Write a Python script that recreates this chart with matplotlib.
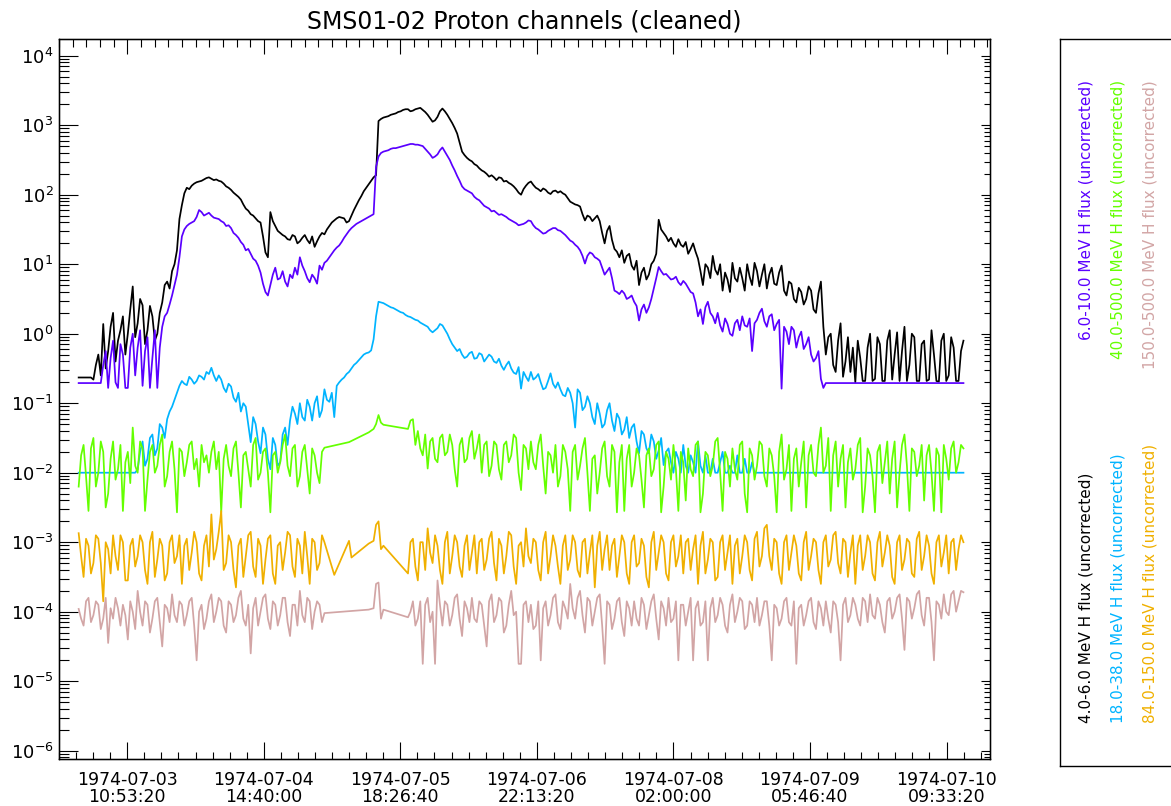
import numpy as np
import matplotlib
matplotlib.use('Agg')
import matplotlib.pyplot as plt
from matplotlib.ticker import FixedLocator, LogLocator, NullFormatter, FixedFormatter

nan = np.nan

# sample times: hours after 1974-07-02 21:00:00, every half hour
hours = np.arange(4, 184.5, 0.5)

# log10 of the fluxes (nan = no sample, the line just joins)
black_lg = [
    -0.63, -0.63, -0.63, -0.63, -0.63, -0.63, -0.66, -0.45, -0.30, -0.60, 0.14, -0.50, -0.25, 0.10, 0.30, -0.40, -0.10, 0.05, 0.25, -0.30,
    0.00, 0.35, 0.68, -0.05, 0.15, 0.50, 0.41, -0.15, 0.05, 0.40, 0.25, -0.10, 0.00, 0.30, 0.45, 0.70, 0.75, 0.65, 0.90, 1.00,
    1.20, 1.65, 1.85, 2.02, 2.10, 2.08, 2.13, 2.16, 2.18, 2.19, 2.20, 2.22, 2.24, 2.25, 2.23, 2.21, 2.22, 2.20, 2.19, 2.16,
    2.12, 2.10, 2.07, 2.03, 2.00, 1.97, 1.93, 1.86, 1.80, 1.77, 1.72, 1.70, 1.66, 1.62, 1.60, 1.40, 1.17, 1.10, 1.75, 1.62,
    1.55, 1.48, 1.45, 1.42, 1.40, 1.36, 1.35, 1.42, 1.40, 1.30, 1.33, 1.38, 1.42, 1.35, 1.30, 1.40, 1.25, 1.33, 1.40, 1.45,
    1.43, 1.50, 1.55, 1.60, 1.63, 1.66, 1.68, 1.67, 1.66, 1.60, 1.62, 1.70, 1.78, 1.85, 1.92, 1.98, 2.05, 2.10, 2.15, 2.20,
    2.25, 2.28, 3.06, 3.09, 3.11, 3.12, 3.13, 3.15, 3.16, 3.17, 3.19, 3.20, 3.22, 3.23, 3.23, 3.20, 3.21, 3.23, 3.24, 3.25,
    3.22, 3.19, 3.15, 3.10, 3.05, 3.07, 3.12, 3.20, 3.24, 3.20, 3.15, 3.09, 3.03, 2.96, 2.88, 2.75, 2.62, 2.57, 2.53, 2.50,
    2.48, 2.44, 2.42, 2.38, 2.35, 2.33, 2.30, 2.26, 2.28, 2.25, 2.21, 2.25, 2.24, 2.19, 2.20, 2.17, 2.15, 2.12, 2.08, 2.03,
    2.00, 2.08, 2.13, 2.17, 2.19, 2.14, 2.10, 2.08, 2.05, 2.09, 2.07, 2.03, 2.01, 2.05, 2.06, 2.03, 2.05, 2.02, 2.00, 1.95,
    1.90, 1.88, 1.86, 1.85, 1.83, 1.72, 1.63, 1.70, 1.68, 1.62, 1.66, 1.70, 1.62, 1.45, 1.30, 1.48, 1.55, 1.35, 1.22, 1.18,
    1.10, 1.20, 1.02, 1.12, 1.15, 0.98, 0.92, 1.05, 0.70, 0.88, 0.95, 0.78, 0.85, 1.00, 1.05, 1.15, 1.64, 1.50, 1.45, 1.40,
    1.33, 1.38, 1.30, 1.25, 1.36, 1.28, 1.25, 1.32, 1.15, 1.22, 1.30, 1.18, 1.08, 0.90, 0.70, 1.00, 0.95, 0.80, 1.12, 0.92,
    0.85, 1.00, 0.62, 0.88, 0.78, 0.60, 1.02, 0.80, 0.75, 0.95, 0.80, 0.62, 1.00, 0.82, 0.70, 1.02, 0.90, 0.68, 0.85, 1.00,
    0.65, 0.85, 0.95, 0.72, 0.70, 0.88, 0.98, 0.62, 0.55, 0.75, 0.72, 0.50, 0.45, 0.66, 0.60, 0.42, 0.50, 0.68, 0.62, 0.35,
    0.30, 0.58, 0.75, 0.10, -0.30, -0.05, 0.00, -0.45, -0.55, -0.10, 0.15, -0.62, -0.40, -0.05, -0.55, -0.20, -0.70, -0.10, -0.35, -0.68,
    -0.68, -0.20, 0.00, -0.68, -0.65, -0.05, -0.15, -0.68, -0.68, -0.10, 0.05, -0.66, -0.30, 0.02, -0.68, -0.25, 0.10, -0.68, -0.45, 0.00,
    -0.05, -0.68, -0.68, -0.15, -0.10, -0.68, -0.66, 0.05, -0.30, -0.68, -0.69, -0.10, 0.00, -0.68, -0.60, -0.05, -0.20, -0.68, -0.68, -0.25,
    -0.10]

purple_lg = [
    -0.71, -0.71, -0.71, -0.71, -0.71, -0.71, -0.71, -0.71, -0.71, -0.71, -0.45, -0.25, -0.78, -0.35, -0.10, -0.70, -0.78, -0.15, -0.30, -0.78,
    -0.78, -0.20, 0.00, -0.60, -0.20, 0.05, -0.75, -0.25, -0.05, -0.78, -0.35, 0.05, -0.78, -0.20, 0.10, 0.25, 0.30, 0.42, 0.55, 0.70,
    0.85, 1.10, 1.40, 1.50, 1.55, 1.58, 1.60, 1.62, 1.68, 1.78, 1.75, 1.70, 1.72, 1.74, 1.70, 1.67, 1.66, 1.65, 1.62, 1.60,
    1.55, 1.56, 1.52, 1.45, 1.42, 1.38, 1.32, 1.28, 1.20, 1.22, 1.15, 1.08, 1.05, 0.98, 0.88, 0.72, 0.60, 0.55, 0.70, 0.85,
    0.95, 0.78, 0.80, 0.90, 0.75, 0.68, 0.85, 0.80, 0.95, 0.85, 1.10, 0.98, 0.90, 0.80, 0.74, 0.85, 0.80, 0.72, 0.98, 0.92,
    1.02, 1.05, 1.10, 1.15, 1.20, 1.24, 1.27, 1.32, 1.38, 1.43, 1.48, 1.52, 1.55, 1.58, 1.60, 1.62, 1.64, 1.66, 1.68, 1.70,
    1.72, 2.40, 2.55, 2.60, 2.62, 2.63, 2.64, 2.66, 2.67, 2.67, 2.68, 2.69, 2.70, 2.71, 2.72, 2.73, 2.73, 2.72, 2.72, 2.71,
    2.70, 2.66, 2.62, 2.58, 2.53, 2.55, 2.58, 2.64, 2.68, 2.62, 2.56, 2.50, 2.42, 2.35, 2.27, 2.20, 2.12, 2.08, 2.06, 2.04,
    2.02, 1.97, 1.94, 1.92, 1.88, 1.84, 1.82, 1.80, 1.76, 1.77, 1.74, 1.71, 1.72, 1.70, 1.68, 1.65, 1.63, 1.61, 1.59, 1.56,
    1.57, 1.58, 1.60, 1.63, 1.62, 1.56, 1.52, 1.50, 1.47, 1.44, 1.45, 1.48, 1.50, 1.52, 1.52, 1.49, 1.48, 1.45, 1.42, 1.38,
    1.34, 1.32, 1.28, 1.25, 1.20, 1.12, 1.01, 1.12, 1.17, 1.15, 1.10, 1.08, 1.05, 0.95, 0.85, 0.90, 0.95, 0.80, 0.62, 0.60,
    0.57, 0.62, 0.58, 0.50, 0.52, 0.55, 0.46, 0.40, 0.19, 0.35, 0.42, 0.30, 0.38, 0.50, 0.65, 0.80, 0.96, 0.90, 0.85, 0.86,
    0.82, 0.78, 0.79, 0.82, 0.74, 0.70, 0.76, 0.72, 0.66, 0.60, 0.58, 0.45, 0.25, 0.35, 0.14, 0.38, 0.46, 0.30, 0.25, 0.15,
    0.30, 0.12, 0.03, 0.22, 0.14, 0.00, -0.03, 0.15, 0.20, 0.05, 0.25, 0.12, 0.10, 0.22, -0.25, 0.15, 0.20, 0.30, 0.36, 0.18,
    0.10, 0.25, 0.28, 0.05, 0.14, 0.20, -0.79, 0.10, 0.03, -0.15, 0.10, 0.05, -0.20, -0.05, 0.03, -0.22, -0.15, -0.05, -0.30, -0.40,
    -0.35, -0.25, -0.65, -0.78, -0.71, -0.71, -0.71, -0.71, -0.71, -0.71, -0.71, -0.71, -0.71, -0.71, -0.71, -0.71, -0.71, -0.71, -0.71, -0.71,
    -0.71, -0.71, -0.71, -0.71, -0.71, -0.71, -0.71, -0.71, -0.71, -0.71, -0.71, -0.71, -0.71, -0.71, -0.71, -0.71, -0.71, -0.71, -0.71, -0.71,
    -0.71, -0.71, -0.71, -0.71, -0.71, -0.71, -0.71, -0.71, -0.71, -0.71, -0.71, -0.71, -0.71, -0.71, -0.71, -0.71, -0.71, -0.71, -0.71, -0.71,
    -0.71]

blue_lg = [
    -2.00, -2.00, -2.00, -2.00, -2.00, -2.00, -2.00, -2.00, -2.00, -2.00, -2.00, -2.00, -2.00, -2.00, -2.00, -2.00, -2.00, -2.00, -2.00, -2.00,
    -2.00, -2.00, -2.00, -2.00, -1.95, -1.70, -1.55, -1.90, -1.80, -1.50, -1.45, -1.75, -1.65, -1.30, -1.35, -1.50, -1.23, -1.12, -1.05, -0.95,
    -0.85, -0.75, -0.68, -0.72, -0.74, -0.62, -0.66, -0.72, -0.68, -0.60, -0.62, -0.66, -0.55, -0.58, -0.49, -0.60, -0.68, -0.60, -0.66, -0.78,
    -0.84, -0.72, -0.76, -0.92, -0.98, -0.85, -1.12, -1.00, -1.05, -1.30, -1.56, -1.20, -1.30, -1.55, -1.72, -1.35, -1.45, -1.80, -1.95, -1.50,
    -1.60, -1.90, -1.85, -1.45, -1.35, -1.60, -1.25, -1.05, -1.15, -1.30, -1.00, -1.20, -1.25, -0.95, -1.05, -1.25, -1.00, -0.90, -1.20, -1.10,
    -0.80, -0.95, -0.98, -0.85, -1.20, -0.75, -0.70, -0.66, -0.63, -0.58, -0.55, -0.50, -0.45, -0.42, -0.38, -0.34, -0.30, -0.28, -0.27, -0.24,
    -0.08, 0.25, 0.46, 0.45, 0.44, 0.42, 0.40, 0.38, 0.37, 0.35, 0.33, 0.31, 0.30, 0.27, 0.25, 0.24, 0.22, 0.20, 0.19, 0.16,
    0.14, 0.12, 0.10, 0.05, 0.02, 0.05, 0.08, 0.14, 0.12, 0.06, 0.00, -0.08, -0.15, -0.20, -0.25, -0.22, -0.30, -0.35, -0.33, -0.28,
    -0.26, -0.36, -0.35, -0.28, -0.30, -0.40, -0.35, -0.30, -0.33, -0.40, -0.42, -0.36, -0.46, -0.52, -0.45, -0.40, -0.50, -0.56, -0.58, -0.48,
    -0.79, -0.55, -0.62, -0.68, -0.55, -0.66, -0.63, -0.58, -0.70, -0.80, -0.78, -0.68, -0.57, -0.72, -0.78, -0.70, -0.80, -0.88, -0.90, -0.78,
    -0.85, -1.00, -1.35, -0.80, -0.85, -1.10, -1.05, -0.90, -1.00, -1.20, -1.30, -1.00, -1.15, -1.35, -1.30, -1.10, -1.00, -1.25, -1.40, -1.15,
    -1.22, -1.45, -1.38, -1.20, -1.50, -1.35, -1.30, -1.55, -1.72, -1.40, -1.45, -1.65, -1.72, -1.45, -1.55, -1.80, -1.68, -1.50, -1.89, -1.70,
    -1.65, -1.85, -2.00, -1.70, -1.80, -2.00, -1.60, -1.90, -2.00, -1.75, -1.85, -2.00, -1.55, -1.90, -2.00, -1.75, -2.00, -2.00, -1.80, -2.00,
    -2.00, -1.85, -1.70, -2.00, -2.00, -1.90, -2.00, -2.00, -1.75, -2.00, -2.00, -1.80, -2.00, -2.00, -1.85, -2.00, -2.00, -2.00, -2.00, -2.00,
    -2.00, -2.00, -2.00, -2.00, -2.00, -2.00, -2.00, -2.00, -2.00, -2.00, -2.00, -2.00, -2.00, -2.00, -2.00, -2.00, -2.00, -2.00, -2.00, -2.00,
    -2.00, -2.00, -2.00, -2.00, -2.00, -2.00, -2.00, -2.00, -2.00, -2.00, -2.00, -2.00, -2.00, -2.00, -2.00, -2.00, -2.00, -2.00, -2.00, -2.00,
    -2.00, -2.00, -2.00, -2.00, -2.00, -2.00, -2.00, -2.00, -2.00, -2.00, -2.00, -2.00, -2.00, -2.00, -2.00, -2.00, -2.00, -2.00, -2.00, -2.00,
    -2.00, -2.00, -2.00, -2.00, -2.00, -2.00, -2.00, -2.00, -2.00, -2.00, -2.00, -2.00, -2.00, -2.00, -2.00, -2.00, -2.00, -2.00, -2.00, -2.00,
    -2.00]

green_lg = [
    -2.20, -1.75, -1.60, -2.05, -2.55, -1.65, -1.50, -2.20, -2.00, -1.55, -1.70, -2.50, -2.30, -1.80, -1.55, -2.10, -1.95, -1.60, -2.55, -1.85,
    -1.70, -2.15, -1.35, -1.90, -2.00, -1.55, -1.65, -2.55, -2.10, -1.70, -1.60, -2.00, -1.90, -1.60, -1.45, -2.20, -2.05, -1.70, -1.55, -1.95,
    -2.57, -1.65, -1.70, -2.05, -1.85, -1.60, -1.55, -1.95, -1.80, -2.20, -1.60, -1.85, -1.75, -2.00, -1.70, -1.55, -1.95, -1.70, -2.57, -1.80,
    -1.60, -1.90, -2.05, -1.65, -1.55, -2.00, -2.50, -1.75, -1.70, -1.95, -2.20, -1.60, -1.50, -2.10, -2.00, -1.70, -1.65, -2.00, -2.57, -1.75,
    -1.70, -2.00, -1.85, -1.60, -1.45, -1.90, -2.05, -1.65, -1.60, -2.20, -2.05, -1.70, -1.60, -1.95, -2.30, -1.65, -1.75, -2.00, -2.15, -1.70,
    -1.64, nan, nan, nan, nan, nan, nan, nan, nan, nan, -1.56, nan, nan, nan, nan, nan, nan, nan, -1.42, nan,
    -1.37, -1.30, -1.17, -1.28, -1.31, nan, nan, nan, nan, nan, nan, nan, nan, nan, -1.37, -1.25, -1.23, -1.60, -1.40, -1.65,
    -1.75, -1.45, -1.94, -1.55, -1.50, -1.80, -1.85, -1.50, -1.45, -1.75, -1.70, -1.45, -1.60, -1.95, -2.20, -1.60, -1.50, -1.85, -1.80, -1.50,
    -1.40, -1.80, -1.65, -1.45, -2.00, -1.60, -1.55, -2.05, -1.90, -1.55, -1.60, -1.95, -2.10, -1.60, -1.55, -1.85, -1.75, -1.45, -1.50, -2.00,
    -2.25, -1.60, -1.65, -1.95, -1.55, -1.85, -1.95, -1.60, -1.45, -1.90, -2.30, -1.70, -1.75, -2.00, -1.60, -2.20, -2.05, -1.60, -1.70, -1.95,
    -2.55, -1.70, -1.60, -2.10, -1.90, -1.65, -1.50, -2.00, -2.55, -1.80, -1.75, -2.30, -2.00, -1.65, -1.55, -2.05, -2.20, -1.60, -1.70, -2.57,
    -1.85, -1.60, -2.55, -1.80, -1.60, -2.20, -2.00, -1.65, -1.75, -2.10, -2.50, -1.75, -1.65, -2.05, -1.95, -1.60, -1.55, -2.57, -2.20, -1.70,
    -1.80, -2.10, -1.60, -1.95, -2.55, -1.70, -1.85, -2.40, -1.65, -1.95, -2.05, -1.60, -1.55, -2.57, -2.30, -1.70, -1.75, -2.05, -1.90, -1.55,
    -1.50, -2.00, -2.55, -1.70, -1.80, -2.20, -1.65, -1.95, -2.10, -1.60, -1.55, -2.30, -2.57, -1.65, -1.75, -2.10, -1.90, -1.55, -1.60, -2.05,
    -2.20, -1.65, -1.75, -2.05, -2.57, -1.70, -1.45, -2.10, -1.95, -1.60, -2.55, -1.80, -1.65, -2.20, -1.85, -1.55, -2.50, -1.75, -1.60, -2.00,
    -2.05, -1.60, -1.35, -2.00, -1.90, -1.50, -2.55, -1.75, -1.55, -2.20, -1.80, -1.60, -2.50, -1.85, -1.65, -2.10, -1.95, -1.60, -1.50, -2.57,
    -2.20, -1.65, -1.75, -2.05, -2.57, -1.70, -1.60, -2.15, -1.85, -1.55, -2.30, -1.80, -1.55, -2.50, -2.00, -1.60, -1.45, -1.90, -2.55, -1.65,
    -1.70, -2.05, -1.90, -1.60, -2.40, -1.75, -1.60, -2.00, -2.55, -1.65, -1.75, -2.57, -1.60, -1.80, -2.10, -1.65, -1.55, -2.00, -1.85, -1.60,
    -1.65]

orange_lg = [
    -2.87, -3.20, -3.50, -2.95, -3.05, -3.45, -3.30, -2.90, -2.95, -3.30, -3.85, -3.00, -3.10, -3.45, -2.90, -3.20, -3.40, -2.90, -3.00, -3.55,
    -3.55, -3.05, -2.95, -3.35, -3.20, -2.90, -3.00, -3.40, -3.60, -3.00, -2.85, -3.50, -3.25, -2.95, -3.05, -3.55, -3.45, -3.00, -2.90, -3.30,
    -3.20, -2.90, -3.60, -3.05, -2.95, -3.40, -3.15, -2.85, -3.00, -3.45, -3.55, -3.05, -2.90, -3.35, -2.60, -3.25, -3.10, -2.85, -2.55, -3.40,
    -3.30, -2.90, -3.00, -3.40, -3.65, -3.05, -2.95, -3.50, -3.20, -2.90, -2.85, -3.35, -3.50, -2.95, -3.05, -3.60, -3.25, -2.95, -2.90, -3.45,
    -3.60, -3.05, -3.00, -3.40, -3.15, -2.85, -2.90, -3.35, -3.50, -2.95, -3.05, -3.45, -2.85, -3.20, -3.60, -2.95, -3.00, -3.40, -3.30, -2.90,
    -3.00, nan, nan, nan, -3.47, nan, nan, nan, nan, nan, -2.98, -3.22, nan, nan, nan, nan, nan, nan, -3.02, nan,
    -2.98, -2.75, -2.70, -3.10, -3.05, nan, nan, nan, nan, nan, nan, nan, nan, nan, -3.45, -3.00, -2.95, -3.35, -3.55, -3.00,
    -3.00, -3.40, -2.80, -3.15, -3.30, -2.90, -3.05, -3.40, -3.60, -3.00, -2.85, -3.45, -3.20, -2.90, -3.00, -3.35, -3.50, -3.05, -2.90, -3.40,
    -3.15, -2.90, -3.45, -3.00, -2.95, -3.40, -3.25, -2.95, -2.85, -3.30, -3.55, -2.95, -3.05, -3.45, -3.20, -2.85, -2.90, -3.35, -3.60, -3.05,
    -3.00, -3.35, -2.80, -3.20, -3.30, -2.95, -3.00, -3.40, -3.55, -3.00, -2.85, -3.45, -3.20, -2.90, -3.05, -3.35, -3.60, -3.05, -2.90, -3.40,
    -3.25, -2.90, -3.00, -3.40, -3.50, -3.00, -2.95, -3.45, -3.15, -2.90, -3.65, -3.05, -2.85, -3.40, -3.10, -2.90, -3.40, -3.05, -2.95, -3.50,
    -3.20, -2.90, -3.00, -3.45, -3.60, -3.00, -2.90, -3.35, -3.30, -2.95, -3.05, -3.50, -3.65, -3.00, -2.85, -3.40, -3.15, -2.90, -3.00, -3.45,
    -3.55, -3.00, -2.90, -3.35, -3.20, -2.90, -3.45, -3.00, -2.95, -3.40, -3.10, -2.90, -3.60, -3.05, -2.85, -3.45, -3.25, -2.95, -3.00, -3.55,
    -3.50, -3.00, -2.90, -3.40, -3.15, -2.90, -3.60, -3.05, -2.95, -3.45, -3.20, -2.90, -3.00, -3.40, -3.55, -2.95, -2.85, -3.35, -3.20, -2.80,
    -2.75, -3.20, -3.40, -2.95, -3.00, -3.45, -3.60, -3.00, -2.90, -3.40, -3.15, -2.90, -3.05, -3.45, -3.55, -3.00, -2.85, -3.40, -3.20, -2.95,
    -3.00, -3.40, -3.60, -3.00, -2.90, -3.35, -3.25, -2.90, -2.85, -3.30, -3.45, -2.95, -3.00, -3.50, -3.15, -2.90, -3.60, -3.05, -2.90, -3.40,
    -3.20, -2.90, -3.00, -3.45, -3.55, -3.00, -2.85, -3.35, -3.15, -2.90, -3.05, -3.50, -3.60, -3.00, -2.90, -3.40, -3.25, -2.95, -3.00, -3.45,
    -3.50, -2.95, -2.85, -3.40, -3.20, -2.90, -3.05, -3.45, -3.60, -3.00, -2.90, -3.35, -3.15, -2.90, -3.45, -3.00, -2.95, -3.40, -3.10, -2.90,
    -3.00]

pink_lg = [
    -3.96, -4.10, -4.20, -3.85, -3.80, -4.15, -4.05, -3.85, -3.90, -4.25, -4.10, -3.80, -4.45, -3.95, -4.10, -3.80, -3.95, -4.20, -3.90, -4.05,
    -4.40, -3.85, -4.00, -4.25, -3.70, -4.00, -4.20, -3.85, -3.90, -4.30, -4.10, -3.85, -3.80, -4.15, -4.50, -3.90, -3.95, -4.15, -3.75, -4.05,
    -4.15, -3.85, -3.90, -4.20, -4.05, -3.85, -3.80, -4.20, -4.70, -4.00, -3.90, -4.25, -4.10, -3.85, -3.75, -4.15, -4.00, -3.80, -3.85, -4.20,
    -4.30, -3.85, -3.90, -4.15, -4.05, -3.80, -3.70, -4.10, -4.20, -3.90, -4.60, -3.95, -3.80, -4.20, -4.00, -3.80, -3.75, -4.10, -4.25, -3.85,
    -3.90, -4.20, -4.05, -3.80, -3.80, -4.15, -4.35, -3.90, -3.90, -4.20, -3.70, -4.05, -4.15, -3.80, -3.85, -4.25, -4.00, -3.85, -3.90, -4.15,
    -4.02, nan, nan, nan, nan, nan, nan, nan, nan, nan, nan, nan, nan, nan, nan, nan, nan, nan, -3.97, nan,
    -3.95, -3.60, -3.58, -4.10, -3.97, nan, nan, nan, nan, nan, nan, nan, nan, nan, -4.08, -4.00, -3.85, -4.20, -4.10, -3.85,
    -4.75, -3.90, -3.80, -4.15, -4.00, -4.75, -3.55, -3.90, -4.20, -3.85, -3.90, -4.20, -4.05, -3.80, -3.75, -4.10, -4.35, -3.85, -3.95, -4.15,
    -3.80, -4.10, -4.15, -3.85, -3.90, -4.20, -4.50, -3.85, -3.75, -4.15, -4.05, -3.80, -3.85, -4.30, -4.20, -3.90, -3.70, -4.05, -4.00, -4.75,
    -4.75, -3.90, -3.85, -4.15, -3.90, -4.25, -4.20, -3.85, -4.70, -3.95, -3.85, -4.20, -4.05, -3.80, -3.75, -4.15, -4.25, -3.85, -3.95, -4.10,
    -3.60, -3.95, -4.10, -3.80, -3.70, -4.05, -4.30, -3.80, -3.85, -4.20, -4.00, -3.80, -3.75, -4.20, -4.75, -3.85, -3.90, -4.25, -4.10, -3.85,
    -3.80, -4.15, -4.35, -3.85, -3.95, -4.20, -3.85, -4.10, -4.20, -3.80, -3.90, -4.25, -4.05, -3.85, -3.75, -4.10, -4.40, -3.85, -3.95, -4.20,
    -3.80, -4.15, -4.10, -3.85, -4.70, -3.90, -3.90, -4.20, -4.00, -3.80, -4.70, -3.95, -3.85, -4.20, -4.15, -3.85, -4.70, -3.95, -3.80, -4.15,
    -4.05, -3.80, -3.90, -4.20, -4.30, -3.90, -3.75, -4.15, -4.00, -3.80, -3.85, -4.25, -4.20, -3.85, -3.90, -4.15, -3.80, -4.20, -4.05, -3.85,
    -3.85, -4.20, -4.70, -3.90, -3.95, -4.20, -4.10, -3.85, -3.80, -4.15, -4.20, -3.85, -4.75, -3.95, -3.90, -4.20, -4.05, -3.85, -3.80, -4.15,
    -4.25, -3.85, -3.95, -4.20, -3.85, -4.10, -4.30, -3.85, -3.90, -4.15, -4.70, -3.90, -3.80, -4.15, -4.05, -3.80, -3.90, -4.10, -4.20, -3.80,
    -3.85, -4.15, -3.75, -4.05, -4.10, -3.80, -3.90, -4.15, -4.30, -3.85, -3.80, -4.10, -4.00, -3.80, -3.75, -4.10, -4.55, -3.80, -3.85, -4.10,
    -3.95, -3.75, -3.70, -4.05, -4.20, -3.80, -3.80, -4.15, -4.70, -3.85, -3.90, -4.10, -3.75, -4.00, -4.05, -3.75, -3.70, -4.00, -3.85, -3.70,
    -3.72]

labels = ['4.0-6.0 MeV H flux (uncorrected)',
          '6.0-10.0 MeV H flux (uncorrected)',
          '18.0-38.0 MeV H flux (uncorrected)',
          '40.0-500.0 MeV H flux (uncorrected)',
          '84.0-150.0 MeV H flux (uncorrected)',
          '150.0-500.0 MeV H flux (uncorrected)']
colors = ['#000000', '#5a00ff', '#00b4ff', '#64ff00', '#f0b000', '#d2a5a5']

tick_hours = [13.889, 41.667, 69.444, 97.222, 125.0, 152.778, 180.556]
tick_labels = ['1974-07-03\n10:53:20', '1974-07-04\n14:40:00',
               '1974-07-05\n18:26:40', '1974-07-06\n22:13:20',
               '1974-07-08\n02:00:00', '1974-07-09\n05:46:40',
               '1974-07-10\n09:33:20']
decades = list(range(-6, 5))

W, H = 1171, 806
fig = plt.figure(figsize=(W / 100, H / 100), dpi=100)
ax = fig.add_axes([59 / W, 1 - 759 / H, 931 / W, 720 / H])

all_lg = [black_lg, purple_lg, blue_lg, green_lg, orange_lg, pink_lg]
for lg, c in zip(all_lg, colors):
    v = np.array(lg)
    t = hours[:len(v)]
    v = v[:len(t)]
    ok = ~np.isnan(v)
    ax.plot(t[ok], 10.0 ** v[ok], color=c, lw=1.25)

ax.set_yscale('log')
ax.set_xlim(0, 189.4)
ax.set_ylim(7.6e-7, 1.74e4)
for s in ax.spines.values():
    s.set_linewidth(1.0)

# bottom axis
ax.set_xticks(tick_hours)
ax.set_xticklabels(tick_labels, fontsize=12.5, linespacing=0.95)
ax.xaxis.set_minor_locator(FixedLocator(np.arange(0, 189.4, 3.47222)))
ax.tick_params(axis='x', which='major', direction='in', length=12, width=0.8,
               pad=8.5, top=False)
ax.tick_params(axis='x', which='minor', direction='in', length=4.7, width=0.8,
               top=False)

# left axis
ax.yaxis.set_major_locator(FixedLocator([10.0 ** d for d in decades]))
ax.yaxis.set_major_formatter(FixedFormatter([r'$10^{%d}$' % d for d in decades]))
ax.yaxis.set_minor_locator(LogLocator(base=10, subs=np.arange(2, 10), numticks=30))
ax.yaxis.set_minor_formatter(NullFormatter())
ax.tick_params(axis='y', which='major', direction='in', length=13.7, width=0.8,
               pad=4, labelsize=13, right=False)
ax.tick_params(axis='y', which='minor', direction='in', length=7.2, width=0.8,
               right=False)

# top axis (finer minor ticks)
top = ax.twiny()
top.set_xlim(ax.get_xlim())
top.set_xticks(tick_hours)
top.set_xticklabels([])
top.xaxis.set_minor_locator(FixedLocator(np.arange(13.889 - 5 * 2.77778, 189.4, 2.77778)))
top.tick_params(axis='x', which='major', direction='in', length=10.8, width=0.8)
top.tick_params(axis='x', which='minor', direction='in', length=5.5, width=0.8)

# right axis (shorter ticks)
right = ax.twinx()
right.set_yscale('log')
right.set_ylim(ax.get_ylim())
right.yaxis.set_major_locator(FixedLocator([10.0 ** d for d in decades]))
right.yaxis.set_minor_locator(LogLocator(base=10, subs=np.arange(2, 10), numticks=30))
right.yaxis.set_major_formatter(NullFormatter())
right.yaxis.set_minor_formatter(NullFormatter())
right.tick_params(axis='y', which='major', direction='in', length=6.5, width=0.8)
right.tick_params(axis='y', which='minor', direction='in', length=4.1, width=0.8)

fig.text(524.5 / W, 1 - 21 / H, 'SMS01-02 Proton channels (cleaned)',
         ha='center', va='center', fontsize=17)

# legend box with rotated labels
lax = fig.add_axes([1060 / W, 1 - 766 / H, 0.2, 727 / H])
lax.set_xticks([])
lax.set_yticks([])
for s in lax.spines.values():
    s.set_linewidth(1.0)

col_x = [1086, 1118, 1150]
for i in range(3):
    # lower group: black, blue, orange, read upward from the bottom
    fig.text(col_x[i] / W, 1 - 723 / H, labels[2 * i], color=colors[2 * i],
             rotation=90, rotation_mode='anchor', ha='left', va='center',
             fontsize=11)
    # upper group: purple, green, pink, ending at the top
    fig.text(col_x[i] / W, 1 - 80 / H, labels[2 * i + 1], color=colors[2 * i + 1],
             rotation=90, rotation_mode='anchor', ha='right', va='center',
             fontsize=11)

fig.savefig('out.png', dpi=100)
